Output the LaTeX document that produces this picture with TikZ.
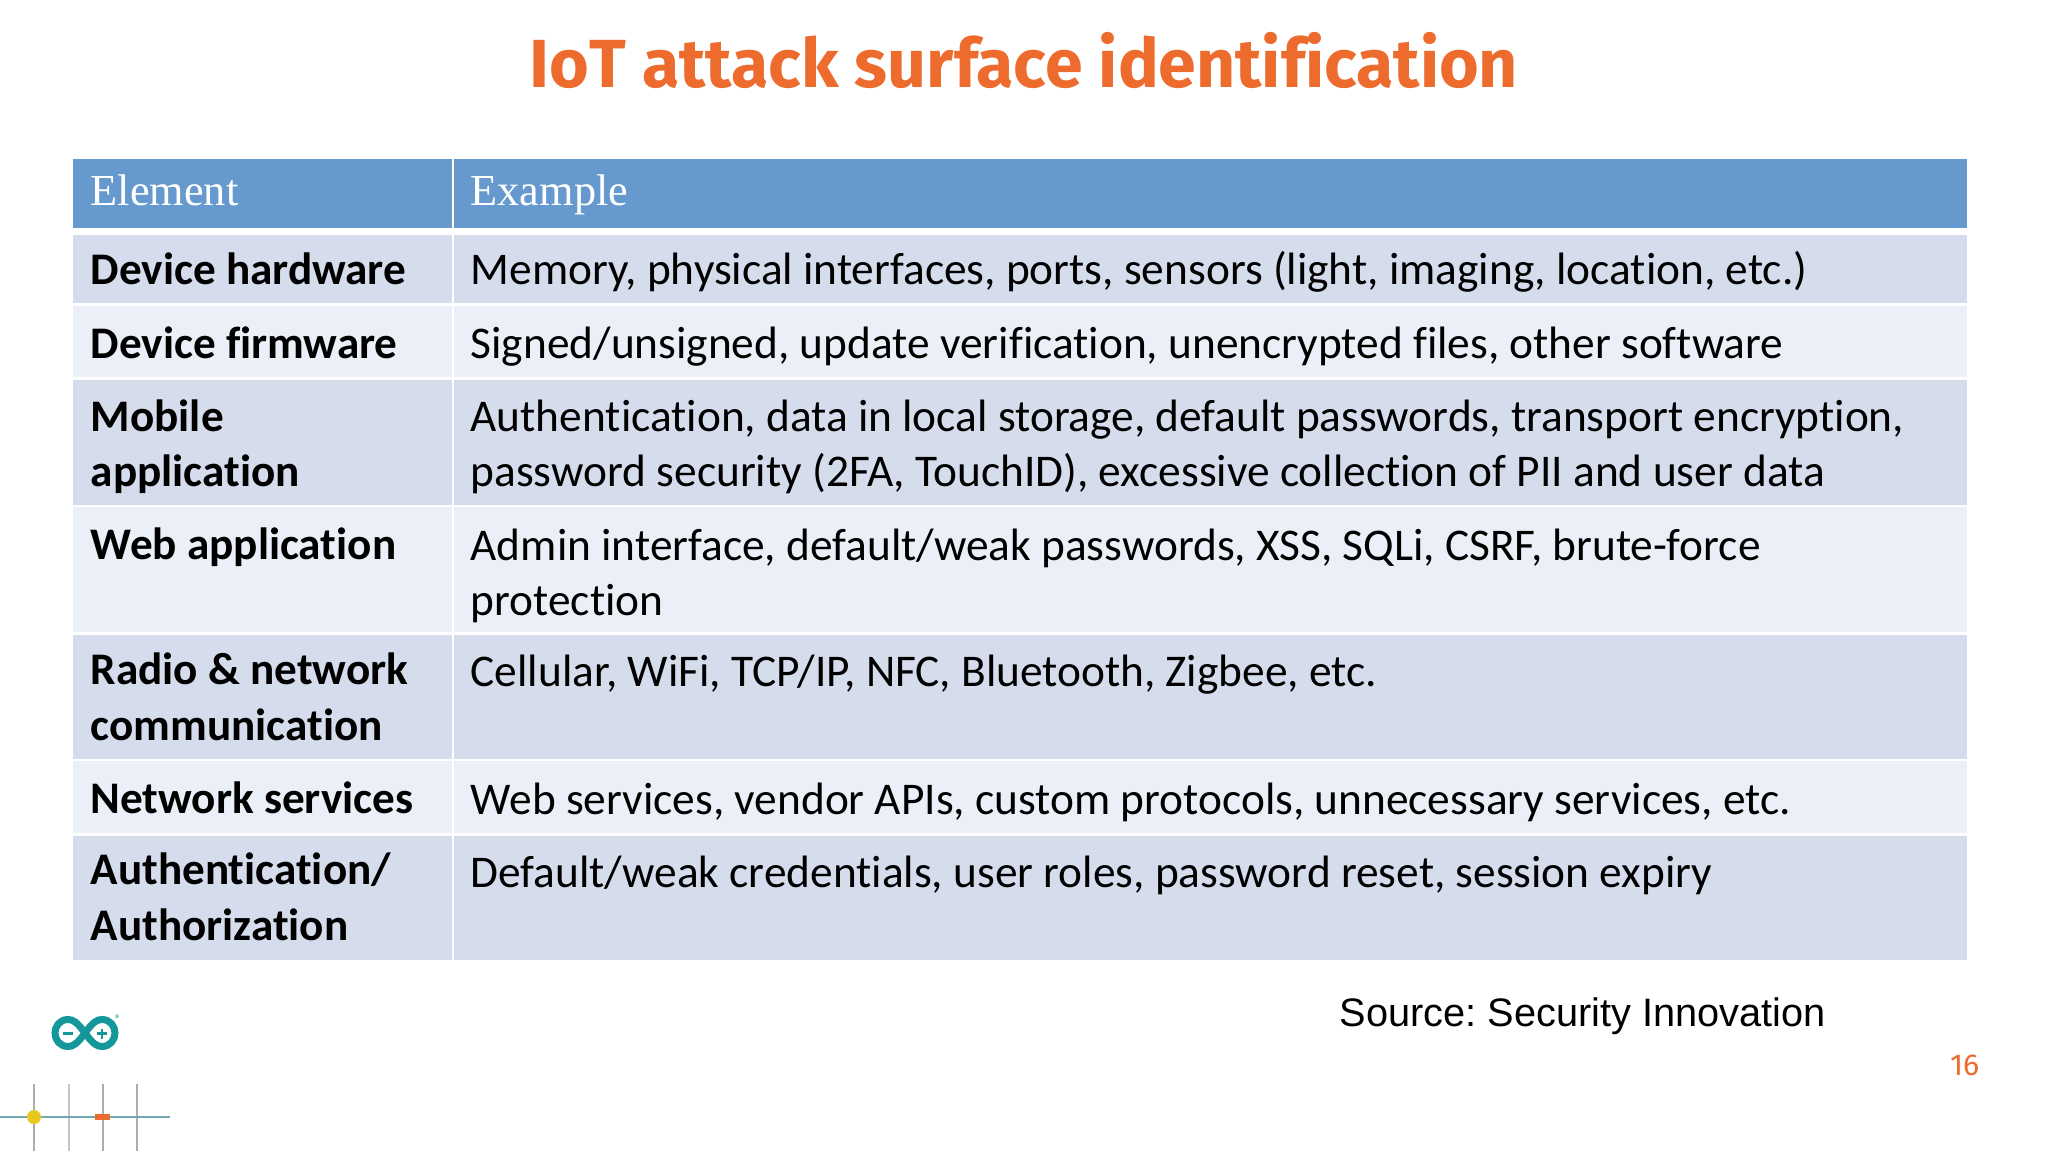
\documentclass[tikz,border=0pt]{standalone}
\usepackage{fontspec}
\setmainfont{Carlito}[Ligatures=NoCommon]
\newfontfamily\titlefont{Fira Sans}[Ligatures=NoCommon]
\newfontfamily\headfont{Liberation Serif}
\newfontfamily\sourcefont{Liberation Sans}
\definecolor{headblue}{HTML}{6699CE}
\definecolor{rowdark}{HTML}{D5DCEC}
\definecolor{rowlight}{HTML}{EBEFF7}
\definecolor{slideorange}{HTML}{EC6B2D}
\definecolor{logoteal}{HTML}{14979B}
\definecolor{crossteal}{HTML}{6FA9B2}
\definecolor{crossgray}{HTML}{B0ADA8}
\definecolor{crossyellow}{HTML}{E8C71E}
\frenchspacing
\tikzset{
    headcell/.style={fill=headblue},
    darkcell/.style={fill=rowdark},
    lightcell/.style={fill=rowlight},
    elem/.style={anchor=base west,inner sep=0,align=left,
        font=\fontsize{12.85}{15.65}\selectfont\bfseries},
    expl/.style={anchor=base west,inner sep=0,align=left,
        font=\fontsize{12.9}{15.65}\selectfont},
    headtext/.style={anchor=base west,inner sep=0,text=white,
        font=\fontsize{12.6}{15}\selectfont\headfont},
}
\begin{document}
\begin{tikzpicture}[x=.01cm,y=-.01cm]
\useasboundingbox (0,0) rectangle (2048,1152);

\path (1024,88) node (title) [anchor=base,inner sep=0,text=slideorange,
    font=\fontsize{19.35}{23}\selectfont\titlefont\bfseries] {IoT attack surface identification};

% header
\fill[headcell] (73,159) rectangle (452,228);
\fill[headcell] (454,159) rectangle (1967,228);

% rows, left cell then right cell
\fill[darkcell] (73,235) rectangle (452,303);
\fill[darkcell] (454,235) rectangle (1967,303);
\fill[lightcell] (73,306) rectangle (452,377);
\fill[lightcell] (454,306) rectangle (1967,377);
\fill[darkcell] (73,380) rectangle (452,505);
\fill[darkcell] (454,380) rectangle (1967,505);
\fill[lightcell] (73,507) rectangle (452,632);
\fill[lightcell] (454,507) rectangle (1967,632);
\fill[darkcell] (73,635) rectangle (452,759);
\fill[darkcell] (454,635) rectangle (1967,759);
\fill[lightcell] (73,761) rectangle (452,833);
\fill[lightcell] (454,761) rectangle (1967,833);
\fill[darkcell] (73,836) rectangle (452,960);
\fill[darkcell] (454,836) rectangle (1967,960);

% a node with two lines sits on its last line
\path (90,206)
    node (element) [headtext] {Element} ++(0,79)
    node (hardware) [elem] {Device hardware} ++(0,74)
    node (firmware) [elem] {Device firmware} ++(0,128)
    node (mobile) [elem] {Mobile\\application} ++(0,73)
    node (web) [elem] {Web application} ++(0,180)
    node (radio) [elem] {Radio \& network\\communication} ++(0,73)
    node (services) [elem] {Network services} ++(0,127)
    node (auth) [elem] {Authentication/\\Authorization};

\path (470,206)
    node (example) [headtext] {Example} ++(0,79)
    node (hardwareex) [expl] {Memory, physical interfaces, ports, sensors (light, imaging, location, etc.)} ++(0,74)
    node (firmwareex) [expl] {Signed/unsigned, update verification, unencrypted files, other software} ++(0,128)
    node (mobileex) [expl] {Authentication, data in local storage, default passwords, transport encryption,\\password security (2FA, TouchID), excessive collection of PII and user data} ++(0,129)
    node (webex) [expl] {Admin interface, default/weak passwords, XSS, SQLi, CSRF, brute-force\\protection} ++(0,70)
    node (radioex) [expl] {Cellular, WiFi, TCP/IP, NFC, Bluetooth, Zigbee, etc.} ++(0,128)
    node (servicesex) [expl] {Web services, vendor APIs, custom protocols, unnecessary services, etc.} ++(0,73)
    node (authex) [expl] {Default/weak credentials, user roles, password reset, session expiry};

\path (1339,1026) node (source) [anchor=base west,inner sep=0,
    font=\fontsize{11.3}{14}\selectfont\sourcefont] {Source: Security Innovation};
\path (1980,1075) node (page) [anchor=base east,inner sep=0,text=slideorange,
    font=\fontsize{8.6}{10}\selectfont\titlefont] {16};

% logo
\draw[logoteal,line width=.07cm] (85,1033)
    .. controls (93,1022) and (97,1019.5) .. (102,1019.5)
    .. controls (110,1019.5) and (115,1026) .. (115,1033)
    .. controls (115,1040) and (110,1046.5) .. (102,1046.5)
    .. controls (97,1046.5) and (93,1044) .. (85,1033)
    .. controls (77,1022) and (73,1019.5) .. (68,1019.5)
    .. controls (60,1019.5) and (55,1026) .. (55,1033)
    .. controls (55,1040) and (60,1046.5) .. (68,1046.5)
    .. controls (73,1046.5) and (77,1044) .. (85,1033) -- cycle;
\draw[logoteal,line width=.025cm] (63,1033.5) -- (73,1033.5);
\draw[logoteal,line width=.025cm] (97,1033.5) -- (107,1033.5) (102,1028.5) -- (102,1038.5);
\path (118,1019.5) node (mark) [inner sep=0,text=logoteal,font=\fontsize{3.5}{4}\selectfont] {®};

% cross lines
\draw[crossgray,line width=.014cm] (34,1084) -- (34,1151);
\draw[crossgray!70,line width=.014cm] (69,1084) -- (69,1151);
\draw[crossgray,line width=.014cm] (103,1084) -- (103,1151);
\draw[crossgray,line width=.014cm] (137,1084) -- (137,1151);
\draw[crossteal,line width=.014cm] (0,1117) -- (170,1117);
\fill[crossyellow] (34,1117) circle (7);
\fill[slideorange] (95,1114) rectangle (110,1120);
\end{tikzpicture}
\end{document}
